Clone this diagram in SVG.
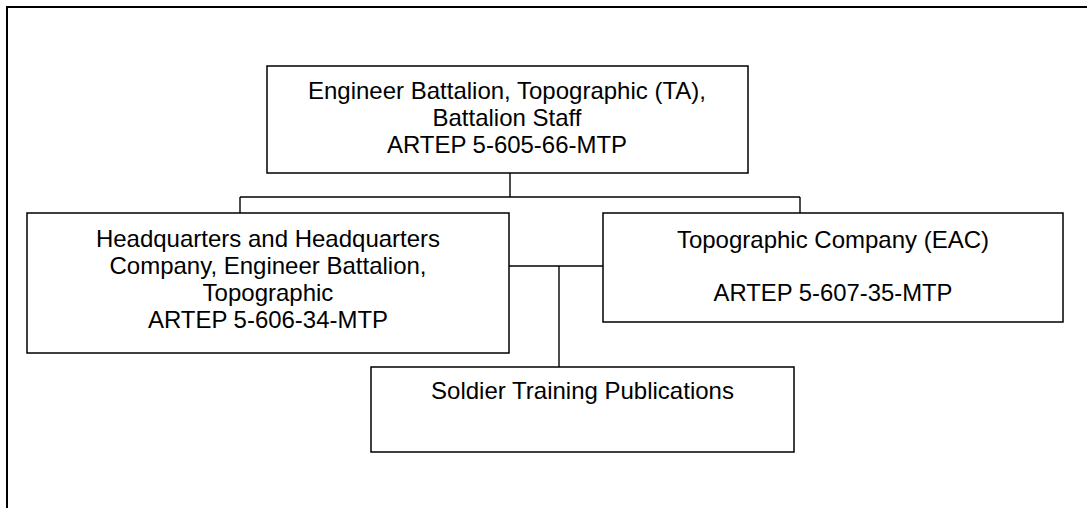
<svg xmlns="http://www.w3.org/2000/svg" width="1087" height="508" viewBox="0 0 1087 508">
<style>
.box{fill:#fff;stroke:#000;stroke-width:1.5}
.frame{fill:none;stroke:#000;stroke-width:2}
.conn{fill:none;stroke:#000;stroke-width:1.4}
text{font-family:"Liberation Sans",Arial,sans-serif;font-size:24px;fill:#000;text-anchor:middle}
</style>
<rect width="1087" height="508" fill="#fff"/>
<rect class="frame" x="7" y="7" width="1100" height="520"/>
<g id="connectors">
<line class="conn" x1="510" y1="173" x2="510" y2="197"/>
<line class="conn" x1="240" y1="197" x2="800" y2="197"/>
<line class="conn" x1="240" y1="197" x2="240" y2="213"/>
<line class="conn" x1="800" y1="197" x2="800" y2="213"/>
<line class="conn" x1="509" y1="266" x2="603" y2="266"/>
<line class="conn" x1="559" y1="266" x2="559" y2="367"/>
</g>
<g id="battalion">
<rect class="box" x="267" y="66" width="481" height="107"/>
<text x="507" y="99">Engineer Battalion, Topographic (TA),</text>
<text x="507" y="126">Battalion Staff</text>
<text x="507" y="153" textLength="240" lengthAdjust="spacingAndGlyphs">ARTEP 5-605-66-MTP</text>
</g>
<g id="hhc">
<rect class="box" x="27" y="213" width="482" height="140"/>
<text x="268" y="247">Headquarters and Headquarters</text>
<text x="268" y="274">Company, Engineer Battalion,</text>
<text x="268" y="301">Topographic</text>
<text x="268" y="328" textLength="240" lengthAdjust="spacingAndGlyphs">ARTEP 5-606-34-MTP</text>
</g>
<g id="topo">
<rect class="box" x="603" y="213" width="460" height="109"/>
<text x="833" y="248">Topographic Company (EAC)</text>
<text x="833" y="301" textLength="239" lengthAdjust="spacingAndGlyphs">ARTEP 5-607-35-MTP</text>
</g>
<g id="stp">
<rect class="box" x="371" y="367" width="423" height="85"/>
<text x="582.5" y="399">Soldier Training Publications</text>
</g>
</svg>
